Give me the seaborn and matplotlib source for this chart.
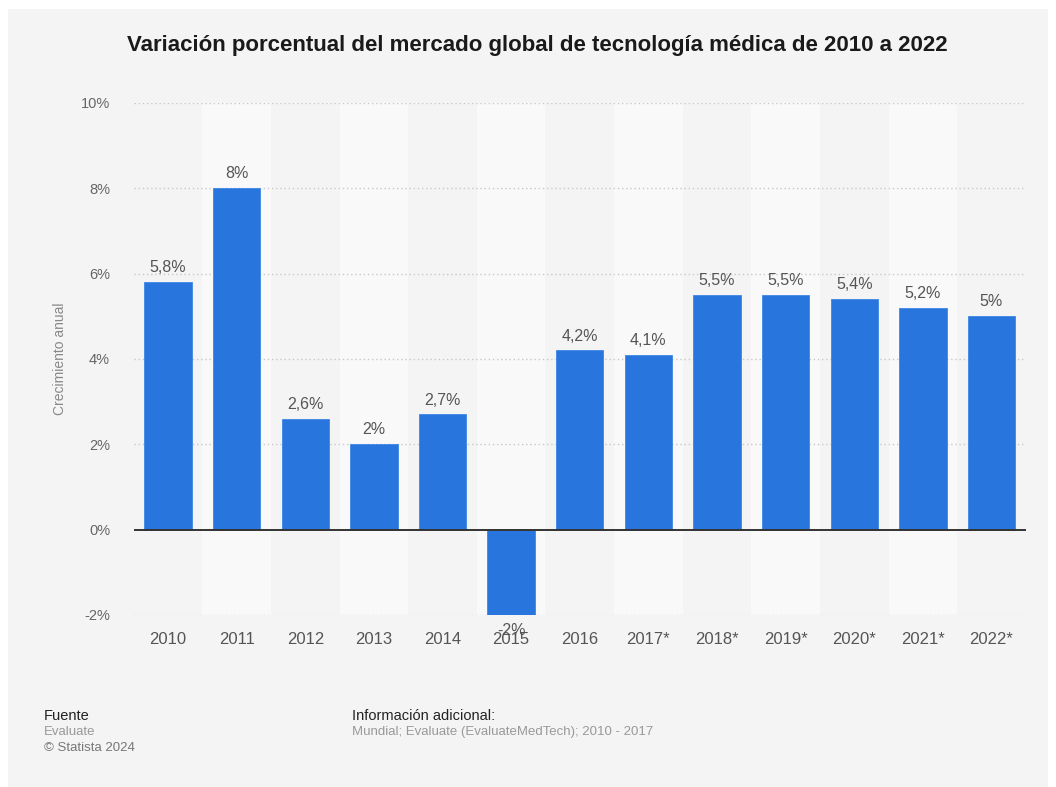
import matplotlib
matplotlib.use("Agg")
import matplotlib.pyplot as plt
from matplotlib.patches import Rectangle
import seaborn as sns
import pandas as pd

# Annual growth of the global medtech market (%)
years = ["2010", "2011", "2012", "2013", "2014", "2015", "2016",
         "2017*", "2018*", "2019*", "2020*", "2021*", "2022*"]
growth = [5.8, 8.0, 2.6, 2.0, 2.7, -2.0, 4.2, 4.1, 5.5, 5.5, 5.4, 5.2, 5.0]
yticks = [-2, 0, 2, 4, 6, 8, 10]

df = pd.DataFrame({"year": years, "growth": growth})

sns.set_style("white")
plt.rcParams["font.family"] = ["Liberation Sans", "DejaVu Sans"]

BG = "#f4f4f4"
BAND = "#f9f9f9"
BAR = "#2876dd"

fig = plt.figure(figsize=(10.56, 7.87), dpi=100)
fig.patch.set_facecolor("white")
fig.patches.append(Rectangle((8 / 1056, 0), 1040 / 1056, 1 - 9 / 787,
                             transform=fig.transFigure, facecolor=BG,
                             edgecolor="none", zorder=-10))

ax = fig.add_axes([133.7 / 1056, 1 - 615 / 787, (1025.8 - 133.7) / 1056, 512 / 787])
ax.set_facecolor(BG)

# alternating column bands
for i in range(len(years)):
    if i % 2 == 1:
        ax.axvspan(i - 0.5, i + 0.5, color=BAND, zorder=0, lw=0)

# dotted grid lines
for t in yticks:
    if t != 0:
        ax.axhline(t, color="#c8c8c8", lw=1, ls=(0, (1, 2)), zorder=1)

sns.barplot(data=df, x="year", y="growth", color=BAR, saturation=1,
            width=0.69, ax=ax, zorder=2, edgecolor="#3d86e6", linewidth=0.6)

ax.axhline(0, color="#333333", lw=1.4, zorder=3)

for i, v in enumerate(growth):
    lbl = f"{v:g}".replace(".", ",") + "%"
    if v >= 0:
        ax.annotate(lbl, (i, v), xytext=(0, 5), textcoords="offset points",
                    ha="center", va="bottom", fontsize=11.5, color="#555555", zorder=4)
    else:
        ax.annotate(lbl, (i, v), xytext=(0, -6), textcoords="offset points",
                    ha="center", va="top", fontsize=11.5, color="#555555", zorder=4)

ax.set_xlim(-0.5, len(years) - 0.5)
ax.set_ylim(-2, 10)
ax.set_yticks(yticks)
ax.set_yticklabels([f"{t}%" for t in yticks])
ax.tick_params(axis="y", length=0, pad=17, labelsize=10.5, labelcolor="#666666")
ax.tick_params(axis="x", length=0, pad=12.5, labelsize=12, labelcolor="#555555")
ax.set_xlabel("")
ax.set_ylabel("Crecimiento anual", fontsize=10, color="#888888", labelpad=10)
for s in ax.spines.values():
    s.set_visible(False)

fig.text(537 / 1056, 1 - 45 / 787,
         "Variación porcentual del mercado global de tecnología médica de 2010 a 2022",
         ha="center", va="center", fontsize=16, fontweight="bold", color="#1a1a1a")

fig.text(44 / 1056, 1 - 716 / 787, "Fuente", fontsize=10.5, color="#222222", va="center")
fig.text(44 / 1056, 1 - 732 / 787, "Evaluate", fontsize=9.5, color="#999999", va="center")
fig.text(44 / 1056, 1 - 748 / 787, "© Statista 2024", fontsize=9.5, color="#777777", va="center")
fig.text(352 / 1056, 1 - 716 / 787, "Información adicional:", fontsize=10.5, color="#222222", va="center")
fig.text(352 / 1056, 1 - 732 / 787, "Mundial; Evaluate (EvaluateMedTech); 2010 - 2017",
         fontsize=9.5, color="#999999", va="center")

fig.savefig("out.png", dpi=100, facecolor=fig.get_facecolor())
